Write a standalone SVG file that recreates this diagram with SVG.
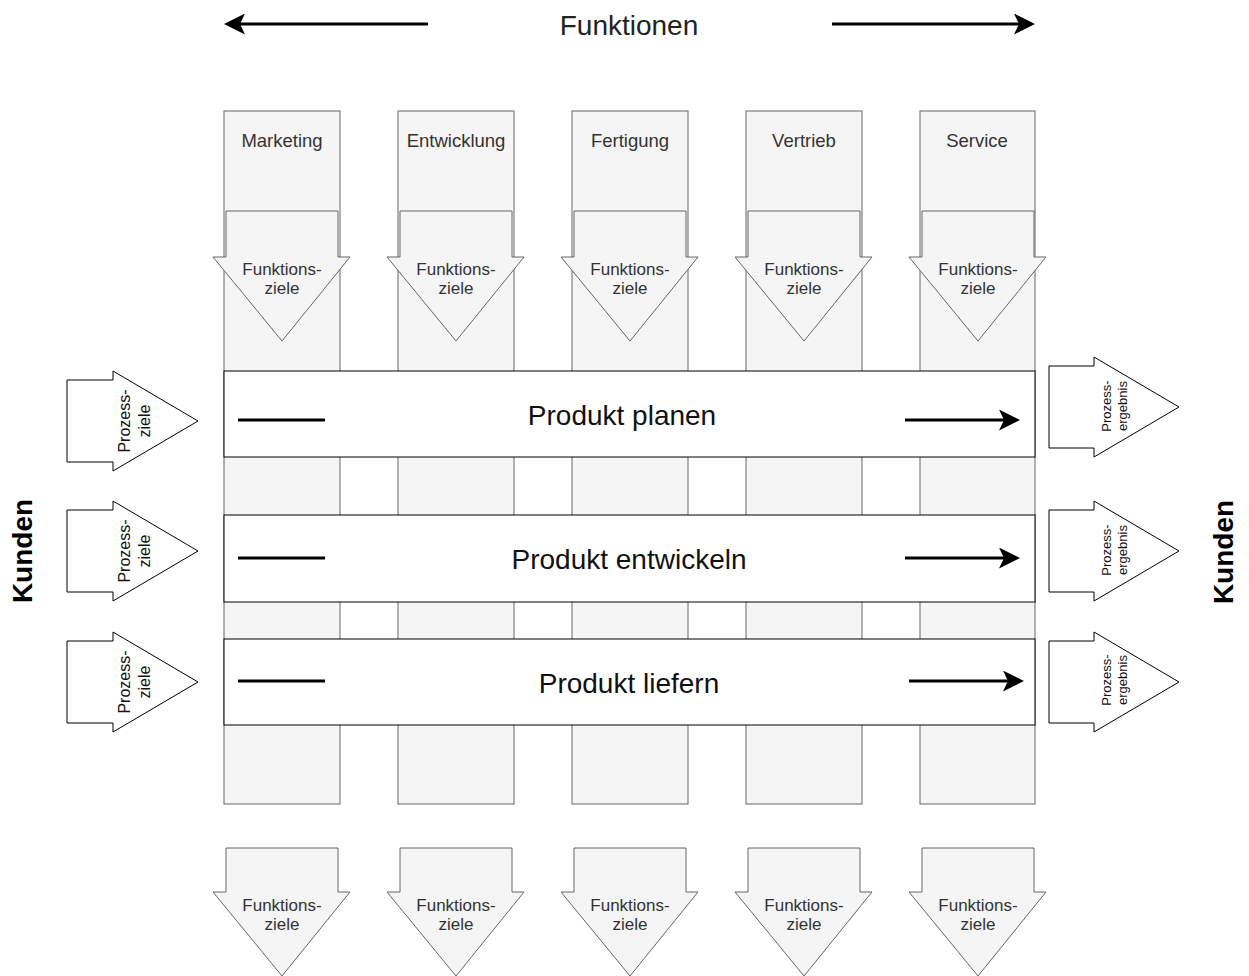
<svg xmlns="http://www.w3.org/2000/svg" width="1249" height="976" viewBox="0 0 1249 976">
  <defs>
    <style>
      .col { fill: #f5f5f5; stroke: #666666; stroke-width: 1; }
      .fz { fill: #f5f5f5; stroke: #666666; stroke-width: 1; }
      .row { fill: #ffffff; stroke: #000000; stroke-width: 1; }
      .pa { fill: #ffffff; stroke: #000000; stroke-width: 1; }
      .flow { stroke: #000000; stroke-width: 3; fill: none; }
      .lbl { font-family: "Liberation Sans", Arial, sans-serif; fill: #333333; text-anchor: middle; }
      .colname { font-size: 18.5px; }
      .fzt { font-size: 17px; }
      .proc { font-size: 28px; fill: #111111; }
      .title { font-size: 28px; fill: #222222; }
      .kunden { font-size: 28px; font-weight: bold; fill: #000000; }
      .pz { font-size: 16px; fill: #111111; }
      .pe { font-size: 13px; fill: #111111; }
    </style>
    <marker id="head" markerUnits="userSpaceOnUse" viewBox="0 0 21 21" markerWidth="21" markerHeight="21" refX="9" refY="10.5" orient="auto">
      <path d="M0,0 L21,10.5 L0,21 L5,10.5 Z" fill="#000000"/>
    </marker>
  </defs>

  <!-- function columns -->
  <g id="col-marketing">
    <rect class="col" x="224" y="111" width="116" height="693"/>
    <text class="lbl colname" x="282" y="147">Marketing</text>
  </g>
  <g id="col-entwicklung">
    <rect class="col" x="398" y="111" width="116" height="693"/>
    <text class="lbl colname" x="456" y="147">Entwicklung</text>
  </g>
  <g id="col-fertigung">
    <rect class="col" x="572" y="111" width="116" height="693"/>
    <text class="lbl colname" x="630" y="147">Fertigung</text>
  </g>
  <g id="col-vertrieb">
    <rect class="col" x="746" y="111" width="116" height="693"/>
    <text class="lbl colname" x="804" y="147">Vertrieb</text>
  </g>
  <g id="col-service">
    <rect class="col" x="920" y="111" width="115" height="693"/>
    <text class="lbl colname" x="977" y="147">Service</text>
  </g>

  <!-- upper Funktionsziele arrows -->
  <g id="fz-top-1">
    <path class="fz" d="M226,211 H338 V257 H350 L282,341 L213,257 H226 Z"/>
    <text class="lbl fzt" x="282" y="275">Funktions-</text>
    <text class="lbl fzt" x="282" y="294">ziele</text>
  </g>
  <g id="fz-top-2">
    <path class="fz" d="M400,211 H512 V257 H524 L456,341 L387,257 H400 Z"/>
    <text class="lbl fzt" x="456" y="275">Funktions-</text>
    <text class="lbl fzt" x="456" y="294">ziele</text>
  </g>
  <g id="fz-top-3">
    <path class="fz" d="M574,211 H686 V257 H698 L630,341 L561,257 H574 Z"/>
    <text class="lbl fzt" x="630" y="275">Funktions-</text>
    <text class="lbl fzt" x="630" y="294">ziele</text>
  </g>
  <g id="fz-top-4">
    <path class="fz" d="M748,211 H860 V257 H872 L804,341 L735,257 H748 Z"/>
    <text class="lbl fzt" x="804" y="275">Funktions-</text>
    <text class="lbl fzt" x="804" y="294">ziele</text>
  </g>
  <g id="fz-top-5">
    <path class="fz" d="M922,211 H1034 V257 H1046 L978,341 L909,257 H922 Z"/>
    <text class="lbl fzt" x="978" y="275">Funktions-</text>
    <text class="lbl fzt" x="978" y="294">ziele</text>
  </g>

  <!-- lower Funktionsziele arrows -->
  <g id="fz-bottom-1">
    <path class="fz" d="M226,848 H338 V892 H350 L282,976 L213,892 H226 Z"/>
    <text class="lbl fzt" x="282" y="911">Funktions-</text>
    <text class="lbl fzt" x="282" y="930">ziele</text>
  </g>
  <g id="fz-bottom-2">
    <path class="fz" d="M400,848 H512 V892 H524 L456,976 L387,892 H400 Z"/>
    <text class="lbl fzt" x="456" y="911">Funktions-</text>
    <text class="lbl fzt" x="456" y="930">ziele</text>
  </g>
  <g id="fz-bottom-3">
    <path class="fz" d="M574,848 H686 V892 H698 L630,976 L561,892 H574 Z"/>
    <text class="lbl fzt" x="630" y="911">Funktions-</text>
    <text class="lbl fzt" x="630" y="930">ziele</text>
  </g>
  <g id="fz-bottom-4">
    <path class="fz" d="M748,848 H860 V892 H872 L804,976 L735,892 H748 Z"/>
    <text class="lbl fzt" x="804" y="911">Funktions-</text>
    <text class="lbl fzt" x="804" y="930">ziele</text>
  </g>
  <g id="fz-bottom-5">
    <path class="fz" d="M922,848 H1034 V892 H1046 L978,976 L909,892 H922 Z"/>
    <text class="lbl fzt" x="978" y="911">Funktions-</text>
    <text class="lbl fzt" x="978" y="930">ziele</text>
  </g>

  <!-- process rows -->
  <g id="proc-planen">
    <rect class="row" x="224" y="371" width="811" height="86"/>
    <text class="lbl proc" x="622" y="425">Produkt planen</text>
  </g>
  <g id="proc-entwickeln">
    <rect class="row" x="224" y="515" width="811" height="87"/>
    <text class="lbl proc" x="629" y="569">Produkt entwickeln</text>
  </g>
  <g id="proc-liefern">
    <rect class="row" x="224" y="639" width="811" height="86"/>
    <text class="lbl proc" x="629" y="693">Produkt liefern</text>
  </g>

  <!-- Prozessziele inputs -->
  <g id="pz-1">
    <path class="pa" d="M67,380 H113 V371 L198,421 L113,471 V462 H67 Z"/>
    <text class="lbl pz" transform="translate(130,421) rotate(-90)">Prozess-</text>
    <text class="lbl pz" transform="translate(150,421) rotate(-90)">ziele</text>
  </g>
  <g id="pz-2">
    <path class="pa" d="M67,510 H113 V501 L198,551 L113,601 V592 H67 Z"/>
    <text class="lbl pz" transform="translate(130,551) rotate(-90)">Prozess-</text>
    <text class="lbl pz" transform="translate(150,551) rotate(-90)">ziele</text>
  </g>
  <g id="pz-3">
    <path class="pa" d="M67,641 H113 V632 L198,682 L113,732 V723 H67 Z"/>
    <text class="lbl pz" transform="translate(130,682) rotate(-90)">Prozess-</text>
    <text class="lbl pz" transform="translate(150,682) rotate(-90)">ziele</text>
  </g>

  <!-- Prozessergebnis outputs -->
  <g id="pe-1">
    <path class="pa" d="M1049,366 H1094 V357 L1179,407 L1094,457 V448 H1049 Z"/>
    <text class="lbl pe" transform="translate(1111,406) rotate(-90)">Prozess-</text>
    <text class="lbl pe" transform="translate(1127,406) rotate(-90)">ergebnis</text>
  </g>
  <g id="pe-2">
    <path class="pa" d="M1049,510 H1094 V501 L1179,551 L1094,601 V592 H1049 Z"/>
    <text class="lbl pe" transform="translate(1111,550) rotate(-90)">Prozess-</text>
    <text class="lbl pe" transform="translate(1127,550) rotate(-90)">ergebnis</text>
  </g>
  <g id="pe-3">
    <path class="pa" d="M1049,641 H1094 V632 L1179,682 L1094,732 V723 H1049 Z"/>
    <text class="lbl pe" transform="translate(1111,680) rotate(-90)">Prozess-</text>
    <text class="lbl pe" transform="translate(1127,680) rotate(-90)">ergebnis</text>
  </g>

  <!-- axis labels -->
  <g id="label-funktionen">
    <text class="lbl title" x="629" y="35">Funktionen</text>
  </g>
  <g id="label-kunden-left">
    <text class="lbl kunden" transform="translate(32,551) rotate(-90)">Kunden</text>
  </g>
  <g id="label-kunden-right">
    <text class="lbl kunden" transform="translate(1233,552) rotate(-90)">Kunden</text>
  </g>

  <!-- connectors -->
  <g id="connectors">
    <line class="flow" x1="428" y1="24" x2="236" y2="24" marker-end="url(#head)"/>
    <line class="flow" x1="832" y1="24" x2="1023" y2="24" marker-end="url(#head)"/>

    <line class="flow" x1="238" y1="420" x2="325" y2="420"/>
    <line class="flow" x1="905" y1="420" x2="1008" y2="420" marker-end="url(#head)"/>

    <line class="flow" x1="238" y1="558" x2="325" y2="558"/>
    <line class="flow" x1="905" y1="558" x2="1008" y2="558" marker-end="url(#head)"/>

    <line class="flow" x1="238" y1="681" x2="325" y2="681"/>
    <line class="flow" x1="909" y1="681" x2="1012" y2="681" marker-end="url(#head)"/>
  </g>
</svg>
